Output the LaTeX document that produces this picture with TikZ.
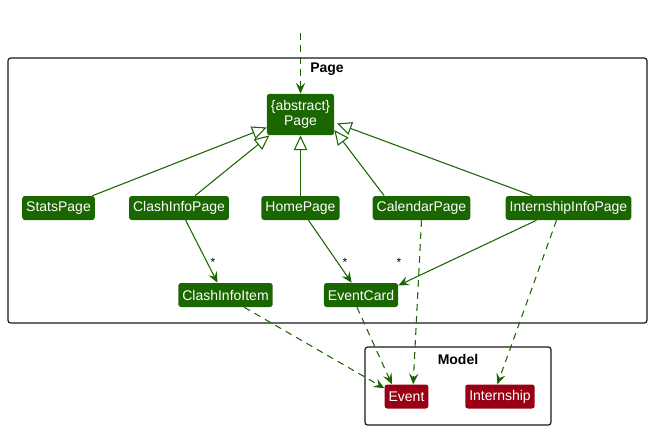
\documentclass[tikz,border=0pt]{standalone}
\usepackage{fontspec}
\setmainfont{Liberation Sans}
\usetikzlibrary{arrows.meta,calc}
\definecolor{uigreen}{HTML}{1A6600}
\definecolor{modelred}{HTML}{9A0014}
\definecolor{framegray}{HTML}{181818}

\begin{document}
\begin{tikzpicture}[
  x=0.75pt, y=-0.75pt,
  font=\fontsize{10.5}{12}\selectfont,
  uiclass/.style={
    fill=uigreen, text=white, rounded corners=2pt,
    minimum height=18pt, inner xsep=3pt, inner ysep=2pt
  },
  modelclass/.style={uiclass, fill=modelred},
  pkgframe/.style={draw=framegray, line width=0.9pt, rounded corners=2pt},
  pkgtitle/.style={font=\fontsize{10.5}{12}\selectfont\bfseries},
  inherit/.style={draw=uigreen, line width=0.8pt,
    -{Triangle[open, length=11pt, width=10pt, fill=white]}},
  assoc/.style={draw=uigreen, line width=0.8pt,
    -{Stealth[length=8pt, width=7pt, inset=3pt]}},
  depend/.style={assoc, dash pattern=on 5pt off 4pt},
  mult/.style={font=\fontsize{9}{10}\selectfont, inner sep=1pt}
]
  \useasboundingbox (0,0) rectangle (651,430);

  % package frames
  \draw[pkgframe] (8,58) rectangle (647,323);
  \node[pkgtitle] at (327,69) {Page};
  \draw[pkgframe] (365,347) rectangle (551,425);
  \node[pkgtitle] at (458,359) {Model};

  % ui classes
  \node[uiclass, align=center, font=\fontsize{10.5}{11.5}\selectfont,
        minimum height=31pt] (page) at (300.5,114.5) {\{abstract\}\\Page};
  \node[uiclass] (stats) at (58.5,208) {StatsPage};
  \node[uiclass] (clash) at (179,208) {ClashInfoPage};
  \node[uiclass] (home) at (300.5,208) {HomePage};
  \node[uiclass] (calendar) at (421.5,208) {CalendarPage};
  \node[uiclass] (internpage) at (568.5,208) {InternshipInfoPage};
  \node[uiclass] (clashitem) at (225.5,295) {ClashInfoItem};
  \node[uiclass] (eventcard) at (361,295) {EventCard};

  % model classes
  \node[modelclass] (event) at (406.5,396.5) {Event};
  \node[modelclass] (internship) at (500,396.5) {Internship};

  % incoming dependency
  \coordinate (entry) at (300.5,33);
  \draw[depend] (entry) -- (page.north);

  % inheritance
  \draw[inherit] ([xshift=-2pt]stats.north east) -- ([yshift=6pt]page.south west);
  \draw[inherit] ([xshift=12pt]clash.north) -- ([xshift=2pt]page.south west);
  \draw[inherit] (home.north) -- (page.south);
  \draw[inherit] ([xshift=-28pt]calendar.north) -- ([yshift=4pt]page.south east);
  \draw[inherit] ([xshift=-27pt]internpage.north) -- ([xshift=2pt,yshift=9pt]page.south east);

  % associations
  \draw[assoc] ([xshift=5pt]clash.south) -- ([xshift=-6pt]clashitem.north);
  \node[mult] at (213,262) {*};
  \draw[assoc] ([xshift=6pt]home.south) -- ([xshift=-7pt]eventcard.north);
  \node[mult] at (345,262) {*};
  \draw[assoc] ([xshift=-24pt]internpage.south) -- ([yshift=-2pt]eventcard.north east);
  \node[mult] at (399,262) {*};

  % dependencies on the model
  \draw[depend] (calendar.south) -- ([xshift=5pt]event.north);
  \draw[depend] ([xshift=-9pt]internpage.south) -- ([xshift=-2pt]internship.north);
  \draw[depend] ([xshift=14pt]clashitem.south) -- ([yshift=-3pt]event.north west);
  \draw[depend] ([xshift=-3pt]eventcard.south) -- ([xshift=-11pt]event.north);
\end{tikzpicture}
\end{document}
